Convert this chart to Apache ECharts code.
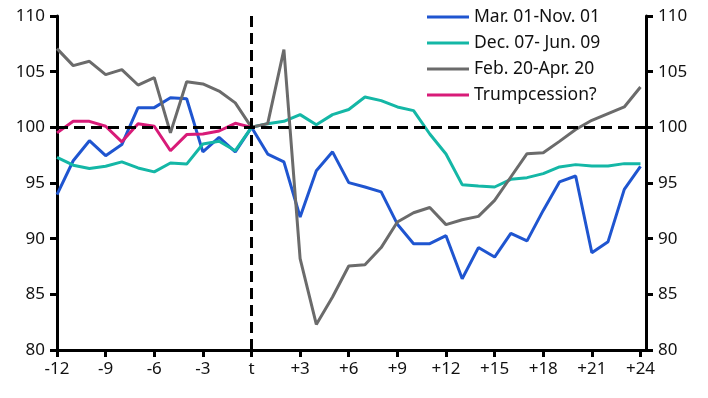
<!DOCTYPE html>
<html>
<head>
<meta charset="utf-8">
<script src="https://cdn.jsdelivr.net/npm/echarts@6/dist/echarts.min.js"></script>
<style>
  html, body { margin: 0; padding: 0; background: #fff; }
  #chart { width: 708px; height: 398px; }
</style>
</head>
<body>
<div id="chart"></div>
<script>
// months relative to the start (t = 0)
const months = [-12, -11, -10, -9, -8, -7, -6, -5, -4, -3, -2, -1, 0,
  1, 2, 3, 4, 5, 6, 7, 8, 9, 10, 11, 12, 13, 14, 15, 16, 17, 18, 19, 20, 21, 22, 23, 24]

const mar01Nov01 = [93.95, 97.0, 98.8, 97.45, 98.45, 101.77, 101.77, 102.66, 102.57, 97.8, 99.1, 97.8, 100,
  97.6, 96.9, 91.95, 96.1, 97.8, 95.03, 94.64, 94.2, 91.3, 89.55, 89.55, 90.27, 86.4, 89.2, 88.35, 90.48, 89.8,
  92.54, 95.1, 95.63, 88.74, 89.73, 94.43, 96.5]

const dec07Jun09 = [97.3, 96.6, 96.3, 96.5, 96.9, 96.35, 96.0, 96.8, 96.7, 98.5, 98.75, 97.9, 100,
  100.33, 100.54, 101.14, 100.24, 101.14, 101.6, 102.72, 102.4, 101.83, 101.5, 99.4, 97.6, 94.85, 94.73, 94.64,
  95.33, 95.48, 95.84, 96.44, 96.65, 96.53, 96.53, 96.74, 96.74]

const feb20Apr20 = [107.07, 105.54, 105.93, 104.73, 105.18, 103.8, 104.46, 99.5, 104.1, 103.9, 103.26, 102.2, 100,
  100.33, 106.98, 88.2, 82.3, 84.76, 87.55, 87.66, 89.2, 91.5, 92.33, 92.8, 91.26, 91.7, 92.0, 93.44, 95.54,
  97.63, 97.72, 98.74, 99.8, 100.63, 101.23, 101.83, 103.62]

const trumpcession = [99.5, 100.54, 100.54, 100.1, 98.7, 100.33, 100.1, 97.9, 99.35, 99.4, 99.67, 100.36, 100]

// reference lines: t marker and the 100 baseline
const tMarker = 0
const baseline = 100

const seriesNames = ['Mar. 01-Nov. 01', 'Dec. 07- Jun. 09', 'Feb. 20-Apr. 20', 'Trumpcession?']
const seriesColors = ['#1f55d0', '#14b7a6', '#6b6b6b', '#d81b78']

const font = 'Noto Sans'

function pairs(values) {
  return values.map((v, i) => [months[i], v])
}

function xLabel(v) {
  if (v % 3 !== 0) return ''
  if (v === 0) return 't'
  return v > 0 ? '+' + v : String(v)
}

const chart = echarts.init(document.getElementById('chart'))

const yAxisBase = {
  type: 'value',
  min: 80,
  max: 110,
  interval: 5,
  axisLine: { show: true, onZero: false, lineStyle: { color: '#000', width: 3 } },
  axisTick: { show: true, inside: false, length: 7, lineStyle: { color: '#000', width: 3 } },
  splitLine: { show: false },
  axisLabel: { color: '#111', fontSize: 17, fontFamily: font, margin: 12 }
}

const dashed = { color: '#000', width: 3, type: [11, 6] }

const lineSeries = seriesNames.map((name, i) => ({
  name: name,
  type: 'line',
  data: pairs([mar01Nov01, dec07Jun09, feb20Apr20, trumpcession][i]),
  symbol: 'none',
  lineStyle: { width: 3, color: seriesColors[i] },
  itemStyle: { color: seriesColors[i] },
  z: 3
}))

// dashed guide lines ride on the first series, drawn above the data
lineSeries[0].markLine = {
  silent: true,
  symbol: 'none',
  label: { show: false },
  lineStyle: dashed,
  z: 6,
  data: [{ yAxis: baseline }, { xAxis: tMarker }]
}

chart.setOption({
  animation: false,
  backgroundColor: '#fff',
  grid: { left: 57, right: 62, top: 16, bottom: 48 },
  legend: {
    orient: 'vertical',
    left: 427,
    top: 8,
    padding: 0,
    icon: 'rect',
    itemWidth: 42,
    itemHeight: 3,
    itemGap: 8,
    textStyle: { color: '#111', fontSize: 17.5, fontFamily: font, lineHeight: 18 },
    data: seriesNames
  },
  xAxis: {
    type: 'value',
    min: -12,
    max: 24.34,
    interval: 3,
    axisLine: { show: true, onZero: false, lineStyle: { color: '#000', width: 3 } },
    axisTick: { show: true, length: 7, lineStyle: { color: '#000', width: 3 } },
    splitLine: { show: false },
    axisLabel: { color: '#111', fontSize: 17, fontFamily: font, margin: 11, formatter: xLabel, showMaxLabel: false }
  },
  yAxis: [
    Object.assign({}, yAxisBase, { position: 'left' }),
    Object.assign({}, yAxisBase, { position: 'right' })
  ],
  series: lineSeries
})
</script>
</body>
</html>
